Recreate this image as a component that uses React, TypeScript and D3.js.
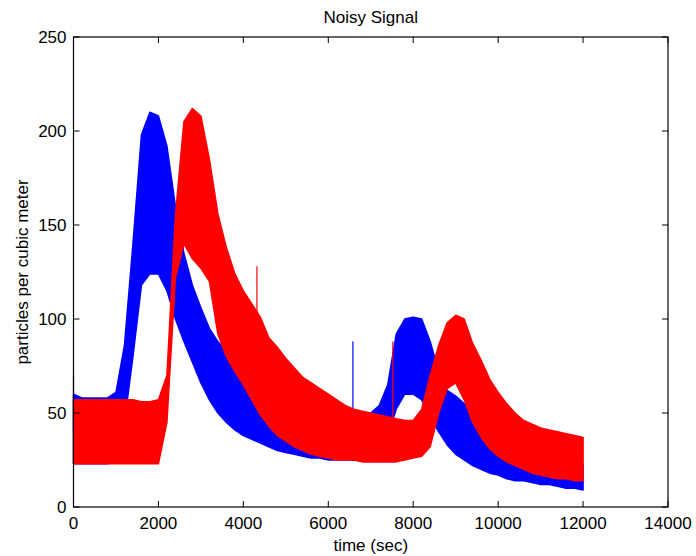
import React from "react";
import * as d3 from "d3";

// sample times (sec)
const time = [
  0, 200, 400, 600, 800, 1000, 1200, 1400, 1600, 1800, 2000, 2200, 2400, 2600, 2800, 3000,
  3200, 3400, 3600, 3800, 4000, 4200, 4400, 4600, 4800, 5000, 5200, 5400, 5600, 5800, 6000,
  6200, 6400, 6600, 6800, 7000, 7200, 7400, 7600, 7800, 8000, 8200, 8400, 8600, 8800, 9000,
  9200, 9400, 9600, 9800, 10000, 10200, 10400, 10600, 10800, 11000, 11200, 11400, 11600, 11800, 12000,
];

// blue signal: noise envelope (upper / lower)
const blueHigh = [
  60, 58, 58, 58, 58, 61, 86, 140, 198, 210, 208, 192, 160, 135, 118, 106,
  95, 88, 83, 78, 74, 71, 68, 65, 60, 57, 54, 52, 51, 50, 49,
  48, 48, 48, 48, 50, 54, 65, 92, 100, 101, 100, 88, 72, 62, 59,
  55, 50, 46, 42, 39, 36, 33, 31, 29, 28, 27, 26, 25, 24, 23,
];
const blueLow = [
  23, 23, 23, 23, 23, 24, 45, 80, 118, 124, 124, 115, 100, 88, 77, 66,
  57, 50, 45, 41, 38, 36, 34, 32, 30, 29, 28, 27, 26, 26, 25,
  25, 25, 25, 25, 26, 28, 38, 52, 60, 60, 57, 48, 40, 33, 28,
  25, 22, 20, 18, 17, 15, 14, 14, 13, 12, 12, 11, 10, 10, 9,
];

// red signal: noise envelope (upper / lower)
const redHigh = [
  57, 57, 57, 57, 57, 57, 57, 57, 56, 56, 57, 70, 155, 205, 212, 208,
  185, 156, 138, 124, 115, 108, 101, 90, 85, 79, 74, 69, 66, 63, 60,
  57, 54, 52, 51, 50, 49, 48, 47, 46, 46, 52, 70, 86, 98, 102,
  100, 87, 78, 68, 61, 55, 50, 46, 44, 42, 41, 40, 39, 38, 37,
];
const redLow = [
  23, 23, 23, 23, 23, 23, 23, 23, 23, 23, 23, 45, 122, 140, 132, 127,
  120, 92, 80, 72, 65, 57, 49, 43, 38, 35, 32, 30, 28, 27, 26,
  25, 25, 25, 24, 24, 24, 24, 24, 25, 26, 27, 32, 50, 63, 66,
  57, 45, 37, 31, 27, 24, 22, 20, 18, 17, 16, 15, 15, 14, 14,
];

// isolated spikes
const blueSpikeTime = [0, 6580];
const blueSpikeTop = [70, 88];
const blueSpikeBase = [40, 45];
const redSpikeTime = [4320, 7520];
const redSpikeTop = [128, 88];
const redSpikeBase = [100, 48];

const xTicks = [0, 2000, 4000, 6000, 8000, 10000, 12000, 14000];
const yTicks = [0, 50, 100, 150, 200, 250];

const W = 696;
const H = 556;
const L = 73.5;
const R = 668;
const T = 37;
const B = 507;
const FONT = "'Liberation Sans', Arial, Helvetica, sans-serif";

export default function App() {
  const x = d3.scaleLinear().domain([0, 14000]).range([L, R]);
  const y = d3.scaleLinear().domain([0, 250]).range([B, T]);

  const band = (hi: number[], lo: number[]) =>
    d3
      .area<number>()
      .x((_, i) => x(time[i]))
      .y0((_, i) => y(lo[i]))
      .y1((_, i) => y(hi[i]))(time) as string;

  const blueBand = band(blueHigh, blueLow);
  const redBand = band(redHigh, redLow);
  const tickLen = 6;

  return (
    <svg
      width={W}
      height={H}
      style={{ position: "absolute", left: 0, top: 0, background: "#fff" }}
      fontFamily={FONT}
    >
      <rect x={0} y={0} width={W} height={H} fill="#fff" />
      <text x={(L + R) / 2} y={23} fontSize={17} textAnchor="middle" fill="#000">
        Noisy Signal
      </text>

      {/* data */}
      <path d={blueBand} fill="#0000ff" stroke="#0000ff" strokeWidth={1.5} strokeLinejoin="round" />
      {blueSpikeTime.map((t, i) => (
        <line key={"bs" + i} x1={x(t)} x2={x(t)} y1={y(blueSpikeBase[i])} y2={y(blueSpikeTop[i])} stroke="#0000ff" strokeWidth={1.2} />
      ))}
      <path d={redBand} fill="#ff0000" stroke="#ff0000" strokeWidth={1.5} strokeLinejoin="round" />
      {redSpikeTime.map((t, i) => (
        <line key={"rs" + i} x1={x(t)} x2={x(t)} y1={y(redSpikeBase[i])} y2={y(redSpikeTop[i])} stroke="#ff0000" strokeWidth={1.2} />
      ))}

      {/* axes box */}
      <rect x={L} y={T} width={R - L} height={B - T} fill="none" stroke="#000" strokeWidth={1.2} />
      {xTicks.map((t) => (
        <g key={"xt" + t}>
          <line x1={x(t)} x2={x(t)} y1={B} y2={B - tickLen} stroke="#000" />
          <line x1={x(t)} x2={x(t)} y1={T} y2={T + tickLen} stroke="#000" />
          <text x={x(t)} y={529} fontSize={17} textAnchor="middle" fill="#000">
            {t}
          </text>
        </g>
      ))}
      {yTicks.map((v) => (
        <g key={"yt" + v}>
          <line x1={L} x2={L + tickLen} y1={y(v)} y2={y(v)} stroke="#000" />
          <line x1={R} x2={R - tickLen} y1={y(v)} y2={y(v)} stroke="#000" />
          <text x={L - 7} y={y(v) + 6} fontSize={17} textAnchor="end" fill="#000">
            {v}
          </text>
        </g>
      ))}
      <text x={(L + R) / 2} y={551} fontSize={17} textAnchor="middle" fill="#000">
        time (sec)
      </text>
      <text
        transform={`translate(28,${(T + B) / 2}) rotate(-90)`}
        fontSize={17}
        textAnchor="middle"
        fill="#000"
      >
        particles per cubic meter
      </text>
    </svg>
  );
}
